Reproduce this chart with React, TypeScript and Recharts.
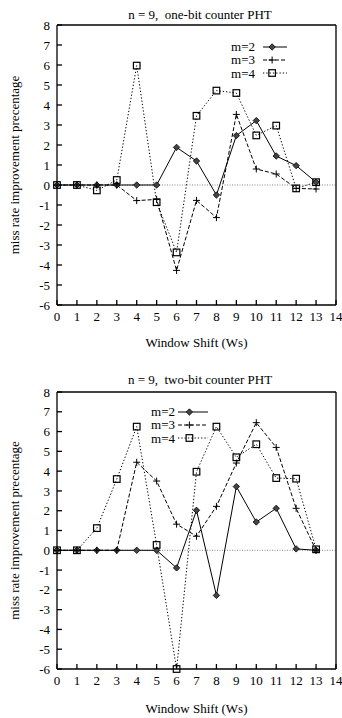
import React from 'react'
import { LineChart, Line, XAxis, YAxis, ReferenceLine, Legend } from 'recharts'

const FONT = "'Liberation Serif', 'Times New Roman', serif"

const windowShift = [0, 1, 2, 3, 4, 5, 6, 7, 8, 9, 10, 11, 12, 13]
const xTicks = [0, 1, 2, 3, 4, 5, 6, 7, 8, 9, 10, 11, 12, 13, 14]
const yTicks = [-6, -5, -4, -3, -2, -1, 0, 1, 2, 3, 4, 5, 6, 7, 8]

// one-bit counter PHT
const oneBitM2 = [0, 0, 0, 0, 0, 0, 1.88, 1.2, -0.5, 2.47, 3.22, 1.45, 0.97, 0.14]
const oneBitM3 = [0, 0, 0, 0, -0.78, -0.72, -4.27, -0.77, -1.63, 3.53, 0.8, 0.55, -0.17, -0.2]
const oneBitM4 = [0, 0, -0.27, 0.25, 5.97, -0.86, -3.37, 3.46, 4.72, 4.6, 2.48, 2.97, -0.17, 0.14]

// two-bit counter PHT
const twoBitM2 = [0, 0, 0, 0, 0, 0, -0.89, 2.02, -2.28, 3.22, 1.43, 2.12, 0.07, 0]
const twoBitM3 = [0, 0, 0, 0, 4.45, 3.5, 1.32, 0.71, 2.22, 4.41, 6.45, 5.2, 2.12, 0]
const twoBitM4 = [0, 0, 1.12, 3.6, 6.25, 0.27, -6, 3.97, 6.25, 4.7, 5.36, 3.65, 3.62, 0.05]

const seriesNames = ['m=2', 'm=3', 'm=4']

const makeRows = (a: number[], b: number[], c: number[]) =>
  windowShift.map((ws, i) => ({ ws, m2: a[i], m3: b[i], m4: c[i] }))

const Diamond = ({ cx, cy }: any) => (
  <path d={`M${cx},${cy - 3.2}L${cx + 3.2},${cy}L${cx},${cy + 3.2}L${cx - 3.2},${cy}Z`} fill="#444" stroke="#000" strokeWidth={0.8} />
)
const Plus = ({ cx, cy }: any) => (
  <path d={`M${cx - 3.5},${cy}H${cx + 3.5}M${cx},${cy - 3.5}V${cy + 3.5}`} stroke="#000" strokeWidth={1} fill="none" />
)
const Square = ({ cx, cy }: any) => (
  <rect x={cx - 3.3} y={cy - 3.3} width={6.6} height={6.6} fill="none" stroke="#000" strokeWidth={1.2} />
)

const markers = [Diamond, Plus, Square]
const dashes = [undefined, '4 2', '1.3 2']

const LegendBox = ({ textW, gap, lineW }: any) => (
  <div style={{ fontFamily: FONT, fontSize: 13, color: '#000' }}>
    {seriesNames.map((name, i) => {
      const M = markers[i]
      return (
        <div key={name} style={{ display: 'flex', alignItems: 'center', height: 13.3 }}>
          <span style={{ width: textW, textAlign: 'right', lineHeight: '13px' }}>{name}</span>
          <svg width={lineW} height={10} style={{ marginLeft: gap }}>
            <line x1={0} y1={5} x2={lineW} y2={5} stroke="#000" strokeWidth={1} strokeDasharray={dashes[i]} />
            <M cx={lineW * 0.38} cy={5} />
          </svg>
        </div>
      )
    })}
  </div>
)

function Panel({ top, title, rows, marginTop, xAxisHeight, xLabelOffset, titleY, legendPos }: any) {
  return (
    <div style={{ position: 'absolute', left: 0, top, width: 342, height: 359 }}>
      <div
        style={{
          position: 'absolute', left: 0, width: 400, top: titleY - 8, textAlign: 'center',
          fontFamily: FONT, fontSize: 13, lineHeight: '16px', color: '#000', whiteSpace: 'pre',
        }}
      >
        {title}
      </div>
      <LineChart width={342} height={359} data={rows} margin={{ top: marginTop, right: 5, left: 0, bottom: 0 }}>
        <ReferenceLine y={0} stroke="#888" strokeDasharray="1 1.5" strokeWidth={1} />
        <XAxis
          dataKey="ws"
          type="number"
          domain={[0, 14]}
          ticks={xTicks}
          interval={0}
          height={xAxisHeight}
          stroke="#000"
          strokeWidth={1.3}
          tickSize={-5}
          tickMargin={12}
          tick={{ fill: '#000', fontSize: 13, fontFamily: FONT }}
          label={{ value: 'Window Shift (Ws)', position: 'insideBottom', offset: xLabelOffset, fill: '#000', fontSize: 13, fontFamily: FONT }}
        />
        <XAxis xAxisId="top" orientation="top" type="number" domain={[0, 14]} ticks={xTicks} interval={0} height={1} stroke="#000" strokeWidth={1.3} tickSize={-5} tick={false} />
        <YAxis
          type="number"
          domain={[-6, 8]}
          ticks={yTicks}
          interval={0}
          width={57}
          stroke="#000"
          strokeWidth={1.3}
          tickSize={-5}
          tickMargin={12}
          tick={{ fill: '#000', fontSize: 13, fontFamily: FONT }}
          label={{ value: 'miss rate improvement precentage', angle: -90, position: 'insideLeft', offset: 14, fill: '#000', fontSize: 13, fontFamily: FONT, style: { textAnchor: 'middle' } }}
        />
        <YAxis yAxisId="right" orientation="right" type="number" domain={[-6, 8]} ticks={yTicks} interval={0} width={1} stroke="#000" strokeWidth={1.3} tickSize={-5} tick={false} />
        <Legend
          layout="horizontal"
          verticalAlign="middle"
          align="center"
          content={() => <LegendBox {...legendPos} />}
          wrapperStyle={{ position: 'absolute', left: legendPos.left, top: legendPos.top, width: 'auto', height: 'auto', bottom: 'auto' }}
        />
        {['m2', 'm3', 'm4'].map((key, i) => {
          const M = markers[i]
          return (
            <Line
              key={key}
              dataKey={key}
              name={seriesNames[i]}
              stroke="#000"
              strokeWidth={1}
              strokeDasharray={dashes[i]}
              isAnimationActive={false}
              dot={(p: any) => <M key={`${key}-${p.index}`} cx={p.cx} cy={p.cy} />}
              activeDot={false}
            />
          )
        })}
      </LineChart>
    </div>
  )
}

export default function App() {
  return (
    <div style={{ position: 'absolute', left: 0, top: 0, width: 342, height: 718, background: '#fff' }}>
      <Panel
        top={0}
        title={'n = 9,  one-bit counter PHT'}
        rows={makeRows(oneBitM2, oneBitM3, oneBitM4)}
        marginTop={24}
        xAxisHeight={54}
        xLabelOffset={12}
        titleY={15}
        legendPos={{ left: 225, top: 40, textW: 30, gap: 8, lineW: 24 }}
      />
      <Panel
        top={359}
        title={'n = 9,  two-bit counter PHT'}
        rows={makeRows(twoBitM2, twoBitM3, twoBitM4)}
        marginTop={32}
        xAxisHeight={49}
        xLabelOffset={5}
        titleY={21}
        legendPos={{ left: 145, top: 46, textW: 30, gap: 3, lineW: 30 }}
      />
    </div>
  )
}
